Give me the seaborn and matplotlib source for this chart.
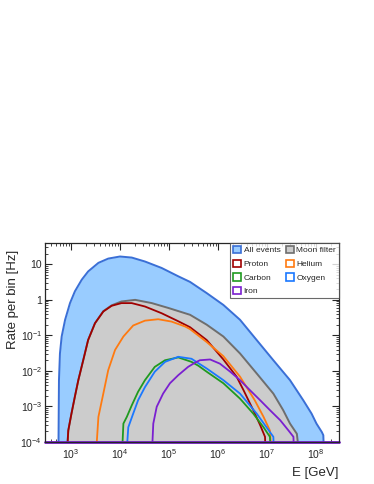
import numpy as np
import pandas as pd
import matplotlib
matplotlib.use("Agg")
import matplotlib.pyplot as plt
import seaborn as sns
from matplotlib.patches import Patch
from matplotlib.ticker import LogLocator, FuncFormatter, NullFormatter

# log10(E/GeV) and rate per bin [Hz] (1e-5 = empty bin)
all_logE = [2.74, 2.755, 2.775, 2.81, 2.88, 2.98, 3.08, 3.22, 3.35, 3.56, 3.76, 4.0, 4.24,
            4.51, 4.85, 5.19, 5.43, 5.77, 6.11, 6.45, 6.79, 7.13, 7.47, 7.74, 7.91, 8.01,
            8.12, 8.15, 8.18]
all_rate = [1e-5, 5.5e-3, 0.031, 0.093, 0.275, 0.81, 1.74, 3.7, 6.3, 11.0, 14.5, 16.6, 15.5,
            12.0, 7.9, 4.6, 3.2, 1.55, 0.72, 0.275, 0.074, 0.020, 5.5e-3, 1.5e-3, 6.3e-4, 3.3e-4,
            1.9e-4, 1.55e-4, 1e-5]

moon_logE = [2.89, 2.945, 3.01, 3.08, 3.15, 3.25, 3.35, 3.49, 3.66, 3.83, 4.03, 4.31, 4.65,
             4.99, 5.43, 5.77, 6.11, 6.45, 6.79, 7.13, 7.33, 7.47, 7.61, 7.71]
moon_rate = [1e-5, 2.1e-4, 6.3e-4, 1.9e-3, 5.5e-3, 0.020, 0.074, 0.22, 0.48, 0.70, 0.90, 1.0, 0.81,
             0.59, 0.38, 0.20, 0.093, 0.031, 8.5e-3, 2.3e-3, 7.9e-4, 3.3e-4, 1.7e-4, 1e-5]

proton_logE = [2.89, 2.945, 3.01, 3.08, 3.15, 3.25, 3.35, 3.49, 3.66, 3.83, 4.03, 4.24, 4.51,
               4.85, 5.19, 5.43, 5.77, 6.11, 6.38, 6.52, 6.72, 6.86, 6.96, 6.99]
proton_rate = [1e-5, 2.1e-4, 6.3e-4, 1.9e-3, 5.5e-3, 0.020, 0.074, 0.22, 0.47, 0.68, 0.81, 0.81, 0.65,
               0.42, 0.25, 0.17, 0.074, 0.021, 6.9e-3, 2.9e-3, 7.9e-4, 3.0e-4, 1.4e-4, 1e-5]

helium_logE = [3.48, 3.56, 3.66, 3.76, 3.90, 4.07, 4.27, 4.51, 4.78, 5.05, 5.33, 5.43, 5.77,
               6.11, 6.45, 6.75, 6.93, 7.06, 7.13]
helium_rate = [1e-5, 5.1e-4, 2.3e-3, 0.0105, 0.039, 0.093, 0.19, 0.26, 0.285, 0.245, 0.178, 0.15, 0.065,
               0.026, 6.9e-3, 1.5e-3, 5.1e-4, 2.1e-4, 1e-5]

carbon_logE = [4.02, 4.07, 4.14, 4.24, 4.37, 4.51, 4.71, 4.92, 5.19, 5.46, 5.6, 5.77, 6.11,
               6.45, 6.72, 6.93, 7.06, 7.1]
carbon_rate = [1e-5, 3.3e-4, 5.1e-4, 1.07e-3, 2.6e-3, 5.5e-3, 0.013, 0.020, 0.024, 0.018, 0.014, 9.5e-3, 4.5e-3,
               1.66e-3, 6.3e-4, 2.6e-4, 1.4e-4, 1e-5]

oxygen_logE = [4.10, 4.17, 4.27, 4.37, 4.51, 4.71, 4.92, 5.19, 5.46, 5.77, 6.11, 6.45, 6.79,
               6.99, 7.13, 7.16]
oxygen_rate = [1e-5, 2.6e-4, 6.3e-4, 1.5e-3, 3.5e-3, 9.5e-3, 0.018, 0.025, 0.022, 0.0117, 5.5e-3, 2.3e-3, 6.3e-4,
               2.6e-4, 1.4e-4, 1e-5]

iron_logE = [4.63, 4.68, 4.75, 4.88, 5.02, 5.19, 5.39, 5.53, 5.63, 5.84, 6.04, 6.25, 6.45,
             6.65, 6.86, 7.06, 7.27, 7.44, 7.54, 7.57]
iron_rate = [1e-5, 3.3e-4, 9.8e-4, 2.3e-3, 4.5e-3, 7.6e-3, 0.013, 0.017, 0.020, 0.021, 0.016, 9.5e-3, 5.5e-3,
             2.9e-3, 1.5e-3, 7.9e-4, 4.1e-4, 2.1e-4, 1.4e-4, 1e-5]

species = ["All events", "Moon filter", "Proton", "Helium", "Carbon", "Oxygen", "Iron"]
line_colors = ["#3a6fd6", "#6e6e6e", "#a00000", "#ff7a10", "#1f9a1f", "#1a78ff", "#7a1fd0"]
fill_colors = {"All events": "#99ccff", "Moon filter": "#cccccc"}

series = {
    "All events": (all_logE, all_rate),
    "Moon filter": (moon_logE, moon_rate),
    "Proton": (proton_logE, proton_rate),
    "Helium": (helium_logE, helium_rate),
    "Carbon": (carbon_logE, carbon_rate),
    "Oxygen": (oxygen_logE, oxygen_rate),
    "Iron": (iron_logE, iron_rate),
}

rows = []
for name, (le, r) in series.items():
    for a, b in zip(le, r):
        rows.append({"species": name, "E": 10 ** a, "rate": b})
df = pd.DataFrame(rows)

sns.set_style("ticks")
plt.rcParams["font.family"] = ["Liberation Sans", "DejaVu Sans"]
plt.rcParams["mathtext.fontset"] = "custom"
plt.rcParams["mathtext.rm"] = "Liberation Sans"
plt.rcParams["mathtext.it"] = "Liberation Sans:italic"

fig = plt.figure(figsize=(3.74, 4.84), dpi=100)
ax = fig.add_axes([45 / 374, 1 - 442 / 484, 294 / 374, 199 / 484])
ax.set_xscale("log")
ax.set_yscale("log")
ymin = 1e-4

for name in ["All events", "Moon filter"]:
    d = df[df.species == name]
    ax.fill_between(d.E, d.rate, ymin, color=fill_colors[name], lw=0)
    sns.lineplot(data=d, x="E", y="rate", color=line_colors[species.index(name)],
                 lw=1.4, estimator=None, sort=False, ax=ax)

comp = df[~df.species.isin(["All events", "Moon filter"])]
sns.lineplot(data=comp, x="E", y="rate", hue="species", palette=dict(zip(species, line_colors)),
             lw=1.3, estimator=None, sort=False, legend=False, ax=ax)

# empty bins sit on the bottom edge
ax.axhline(ymin, color=line_colors[-1], lw=2, clip_on=False, zorder=5)

ax.set_xlim(10 ** 2.47, 10 ** 8.47)
ax.set_ylim(ymin, 10 ** 1.6)

ax.xaxis.set_major_locator(LogLocator(base=10, numticks=20))
ax.xaxis.set_minor_locator(LogLocator(base=10, subs=np.arange(2, 10), numticks=20))
ax.yaxis.set_major_locator(LogLocator(base=10, numticks=20))
ax.yaxis.set_minor_locator(LogLocator(base=10, subs=np.arange(2, 10), numticks=20))
ax.xaxis.set_minor_formatter(NullFormatter())
ax.yaxis.set_minor_formatter(NullFormatter())


def fmt(v, pos):
    n = int(round(np.log10(v)))
    if n == 0:
        return "1"
    if n == 1:
        return "10"
    return r"$10^{%d}$" % n


ax.xaxis.set_major_formatter(FuncFormatter(fmt))
ax.yaxis.set_major_formatter(FuncFormatter(fmt))
ax.tick_params(which="both", direction="in", top=True, right=True, labelsize=7.5)
ax.tick_params(axis="y", pad=2)
ax.tick_params(axis="x", pad=4)
ax.tick_params(which="major", length=5, width=0.8)
ax.tick_params(which="minor", length=2.5, width=0.6)
for s in ax.spines.values():
    s.set_linewidth(0.9)
    s.set_zorder(6)

ax.set_xlabel("E [GeV]", fontsize=9.5, loc="right")
ax.set_ylabel("Rate per bin [Hz]", fontsize=9.5, loc="top")
ax.xaxis.set_label_coords(1.0, -0.125)
ax.yaxis.set_label_coords(-0.09, 0.965)

order = ["All events", "Proton", "Carbon", "Iron", "Moon filter", "Helium", "Oxygen"]
handles = []
for name in order:
    c = line_colors[species.index(name)]
    handles.append(Patch(facecolor=fill_colors.get(name, "white"), edgecolor=c, lw=1.2, label=name))
leg = ax.legend(handles=handles, ncol=2, loc="upper right", bbox_to_anchor=(1.0, 1.0),
                borderaxespad=0, fontsize=6, frameon=True, fancybox=False, handlelength=1.0,
                handleheight=1.0, handletextpad=0.3, columnspacing=0.6, labelspacing=0.6,
                borderpad=0.35)
leg.get_frame().set_edgecolor("#444444")
leg.get_frame().set_linewidth(0.8)
leg.set_zorder(10)

fig.savefig("out.png", dpi=100)
